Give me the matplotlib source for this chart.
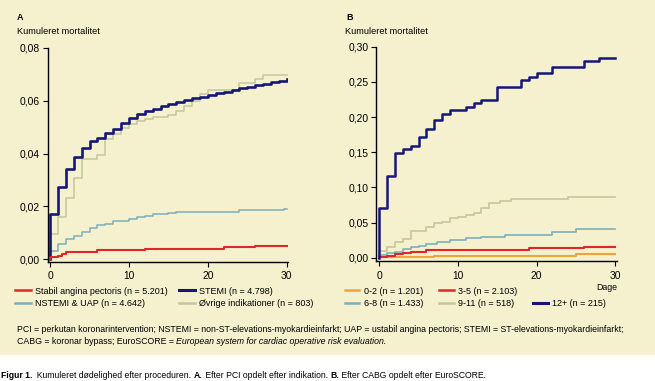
import matplotlib
matplotlib.use("Agg")
import matplotlib.pyplot as plt
from matplotlib.lines import Line2D
from matplotlib.patches import Rectangle
from matplotlib.ticker import FuncFormatter

plt.rcParams['font.family'] = ['Liberation Sans', 'DejaVu Sans']

# ---- data: panel A (PCI, by indication), step curves (day, cumulative mortality)
stabil_x = [0, 0, 1, 1.5, 2, 6, 12, 22, 26, 30]
stabil_y = [0, 0.0008, 0.0014, 0.002, 0.0028, 0.0034, 0.004, 0.0045, 0.005, 0.005]

nstemi_x = [0, 0, 1, 2, 3, 4, 5, 6, 7, 8, 10, 11, 12, 13, 15, 16, 24, 29.7, 30]
nstemi_y = [0, 0.0033, 0.0058, 0.0075, 0.0087, 0.0104, 0.0119, 0.0128, 0.0135, 0.0143,
            0.0154, 0.016, 0.0164, 0.017, 0.0175, 0.018, 0.0186, 0.019, 0.019]

stemi_x = [0] + list(range(0, 31))
stemi_y = [0, 0.017, 0.0274, 0.0343, 0.0385, 0.042, 0.0448, 0.046, 0.0478, 0.0494, 0.0516,
           0.0536, 0.0549, 0.0562, 0.057, 0.058, 0.0587, 0.0594, 0.0601, 0.0608, 0.0614,
           0.062, 0.0627, 0.0634, 0.064, 0.0646, 0.0652, 0.0658, 0.0664, 0.067, 0.0676, 0.068]

ovrige_x = [0, 0, 1, 2, 3, 4, 6, 7, 8, 9, 10, 11, 12, 13, 15, 16, 17, 18, 19, 20, 24, 26, 27, 30]
ovrige_y = [0, 0.0096, 0.016, 0.0233, 0.0306, 0.0378, 0.0393, 0.0455, 0.0472, 0.0497, 0.0512,
            0.0522, 0.053, 0.0537, 0.0545, 0.0562, 0.058, 0.06, 0.0625, 0.064, 0.0665,
            0.0682, 0.0695, 0.0695]

labels_a = ["Stabil angina pectoris (n = 5.201)", "STEMI (n = 4.798)",
            "NSTEMI & UAP (n = 4.642)", "Øvrige indikationer (n = 803)"]

# ---- data: panel B (CABG, by EuroSCORE)
es02_x = [0, 0, 7, 25, 30]
es02_y = [0, 0.0005, 0.0024, 0.0048, 0.0048]

es35_x = [0, 0, 1, 2, 3, 4, 6, 19, 26, 30]
es35_y = [0, 0.0014, 0.003, 0.0048, 0.0065, 0.0085, 0.011, 0.0133, 0.0156, 0.0156]

es68_x = [0, 0, 1, 2, 3, 4, 5, 6, 7.3, 9, 11, 13, 16, 22, 25, 30]
es68_y = [0, 0.004, 0.0062, 0.0077, 0.012, 0.0148, 0.017, 0.0195, 0.0219, 0.0251, 0.0276,
          0.0298, 0.0322, 0.037, 0.0408, 0.0408]

es911_x = [0, 0, 1, 2, 3, 4, 6, 7, 8, 9, 10, 11, 12, 13, 14, 15.4, 16.8, 24, 30]
es911_y = [0, 0.009, 0.0156, 0.0227, 0.0266, 0.0384, 0.044, 0.0489, 0.0512, 0.056, 0.0582,
           0.0607, 0.064, 0.07, 0.0773, 0.0805, 0.0835, 0.087, 0.087]

es12_x = [0, 0, 1, 2, 3, 4, 5, 6, 7, 8, 9, 11, 12, 13, 15, 18, 19, 20, 22, 26, 28, 30]
es12_y = [0, 0.07, 0.1165, 0.149, 0.1544, 0.1587, 0.171, 0.1824, 0.1956, 0.2037, 0.21,
          0.2145, 0.22, 0.224, 0.243, 0.2524, 0.257, 0.262, 0.271, 0.2795, 0.284, 0.284]

labels_b = ["0-2 (n = 1.201)", "3-5 (n = 2.103)", "6-8 (n = 1.433)",
            "9-11 (n = 518)", "12+ (n = 215)"]

xticks = [0, 10, 20, 30]
yticks_a = [0, 0.02, 0.04, 0.06, 0.08]
yticks_b = [0, 0.05, 0.10, 0.15, 0.20, 0.25, 0.30]

# colours
BG = '#f5f1cf'
NAVY = '#16167a'
RED = '#e0262a'
LBLUE = '#7eaebb'
KHAKI = '#c5c69a'
ORANGE = '#f2a23a'

W, H = 655, 381
fig = plt.figure(figsize=(W / 100, H / 100), dpi=100)
fig.patch.set_facecolor('white')
fig.patches.append(Rectangle((0, (H - 355) / H), 1, 355 / H, transform=fig.transFigure,
                             facecolor=BG, edgecolor='none', zorder=-10))


def px(x, y):
    return x / W, 1 - y / H


comma = FuncFormatter(lambda v, p: f"{v:.2f}".replace('.', ','))


def style_axes(ax):
    ax.set_facecolor('none')
    for s in ['top', 'right']:
        ax.spines[s].set_visible(False)
    for s in ['left', 'bottom']:
        ax.spines[s].set_linewidth(1.0)
    ax.tick_params(direction='out', length=3.5, width=0.8, labelsize=7.4, pad=2)
    ax.tick_params(axis='x', pad=3.5)
    ax.yaxis.set_major_formatter(comma)
    ax.set_xticks(xticks)


# panel A
axA = fig.add_axes([47.7 / W, (H - 261.7) / H, 240.6 / W, 214 / H])
style_axes(axA)
axA.step(ovrige_x, ovrige_y, where='post', color=KHAKI, lw=1.1)
axA.step(nstemi_x, nstemi_y, where='post', color=LBLUE, lw=1.1)
axA.step(stemi_x, stemi_y, where='post', color=NAVY, lw=1.9)
axA.step(stabil_x, stabil_y, where='post', color=RED, lw=1.5)
axA.set_xlim(-0.3, 30.2)
axA.set_ylim(-0.0009, 0.08)
axA.set_yticks(yticks_a)

# panel B
axB = fig.add_axes([376 / W, (H - 261) / H, 240.7 / W, 214.3 / H])
style_axes(axB)
axB.step(es911_x, es911_y, where='post', color=KHAKI, lw=1.2)
axB.step(es68_x, es68_y, where='post', color=LBLUE, lw=1.2)
axB.step(es02_x, es02_y, where='post', color=ORANGE, lw=1.5)
axB.step(es35_x, es35_y, where='post', color=RED, lw=1.5)
axB.step(es12_x, es12_y, where='post', color=NAVY, lw=1.8)
axB.set_xlim(-0.42, 30.2)
axB.set_ylim(-0.0047, 0.30)
axB.set_yticks(yticks_b)

# panel titles
fig.text(*px(17, 18), "A", fontsize=6.5, fontweight='bold', va='center', ha='left')
fig.text(*px(17, 31), "Kumuleret mortalitet", fontsize=6.6, va='center', ha='left')
fig.text(*px(346, 18), "B", fontsize=6.5, fontweight='bold', va='center', ha='left')
fig.text(*px(345, 31), "Kumuleret mortalitet", fontsize=6.6, va='center', ha='left')
fig.text(*px(617, 287), "Dage", fontsize=6.3, va='center', ha='right')

# legends
hA = [Line2D([], [], color=RED, lw=1.8), Line2D([], [], color=LBLUE, lw=1.8),
      Line2D([], [], color=NAVY, lw=2.2), Line2D([], [], color=KHAKI, lw=1.8)]
lA = [labels_a[0], labels_a[2], labels_a[1], labels_a[3]]
fig.legend(hA, lA, loc='upper left', bbox_to_anchor=px(15, 286.5), ncol=2, frameon=False,
           fontsize=6.5, handlelength=1.75, handletextpad=0.45, columnspacing=1.3,
           labelspacing=0.4, borderpad=0, borderaxespad=0)

hB = [Line2D([], [], color=ORANGE, lw=1.8), Line2D([], [], color=LBLUE, lw=1.8),
      Line2D([], [], color=RED, lw=1.8), Line2D([], [], color=KHAKI, lw=1.8),
      Line2D([], [], color='none'), Line2D([], [], color=NAVY, lw=2.2)]
lB = [labels_b[0], labels_b[2], labels_b[1], labels_b[3], '', labels_b[4]]
fig.legend(hB, lB, loc='upper left', bbox_to_anchor=px(345, 286.5), ncol=3, frameon=False,
           fontsize=6.5, handlelength=1.6, handletextpad=0.45, columnspacing=1.8,
           labelspacing=0.4, borderpad=0, borderaxespad=0)


# running text made of pieces with different weights
def run_text(x, y, pieces, size):
    fig.canvas.draw()
    r = fig.canvas.get_renderer()
    for s, kw in pieces:
        t = fig.text(*px(x, y), s, fontsize=size, va='center', ha='left', **kw)
        x += t.get_window_extent(renderer=r).width


run_text(17, 330, [("PCI = perkutan koronarintervention; NSTEMI = non-ST-elevations-myokardieinfarkt; "
                    "UAP = ustabil angina pectoris; STEMI = ST-elevations-myokardieinfarkt;", {})], 6.32)
run_text(17, 342, [("CABG = koronar bypass; EuroSCORE = ", {}),
                   ("European system for cardiac operative risk evaluation.", {'style': 'italic'})], 6.32)
run_text(1, 376, [("Figur 1.", {'fontweight': 'bold'}),
                  ("  Kumuleret dødelighed efter proceduren. ", {}),
                  ("A.", {'fontweight': 'bold'}),
                  (" Efter PCI opdelt efter indikation. ", {}),
                  ("B.", {'fontweight': 'bold'}),
                  (" Efter CABG opdelt efter EuroSCORE.", {})], 6.25)

fig.savefig('out.png', dpi=100)
